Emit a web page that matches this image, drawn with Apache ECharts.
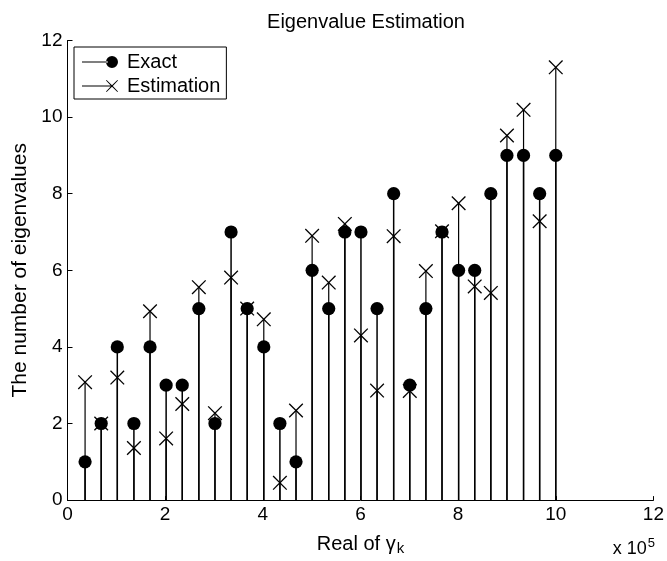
<!DOCTYPE html>
<html>
<head>
<meta charset="utf-8">
<script src="https://cdn.jsdelivr.net/npm/echarts@6/dist/echarts.min.js"></script>
<style>
  html, body { margin: 0; padding: 0; background: #fff; }
  #chart { width: 667px; height: 561px; }
</style>
</head>
<body>
<div id="chart"></div>
<script>
// Real part of gamma_k (units of 1e5)
var gammaReal = [0.36, 0.69, 1.02, 1.36, 1.69, 2.02, 2.35, 2.69, 3.02, 3.35,
                 3.68, 4.02, 4.35, 4.68, 5.01, 5.35, 5.68, 6.01, 6.34, 6.68,
                 7.01, 7.34, 7.67, 8.01, 8.34, 8.67, 9.00, 9.34, 9.67, 10.00];
// Exact eigenvalue counts
var exactCounts = [1, 2, 4, 2, 4, 3, 3, 5, 2, 7,
                   5, 4, 2, 1, 6, 5, 7, 7, 5, 8,
                   3, 5, 7, 6, 6, 8, 9, 9, 8, 9];
// Estimated eigenvalue counts
var estimatedCounts = [3.08, 2.0, 3.2, 1.36, 4.93, 1.61, 2.51, 5.56, 2.27, 5.81,
                       5.0, 4.72, 0.45, 2.34, 6.9, 5.68, 7.21, 4.3, 2.86, 6.89,
                       2.85, 5.98, 7.02, 7.75, 5.58, 5.41, 9.52, 10.19, 7.28, 11.3];
var xTicks = [0, 2, 4, 6, 8, 10, 12];
var yTicks = [0, 2, 4, 6, 8, 10, 12];

var FONT = '"Liberation Sans", Arial, Helvetica, sans-serif';

function pairs(xs, ys) {
  return xs.map(function (x, i) { return [x, ys[i]]; });
}

// Stem: vertical line from the baseline up to the value, with a marker on top
function stemItem(markerKind) {
  return function (params, api) {
    var x = api.value(0), y = api.value(1);
    var base = api.coord([x, 0]);
    var tip = api.coord([x, y]);
    var children = [{
      type: 'line',
      shape: { x1: base[0], y1: base[1], x2: tip[0], y2: tip[1] },
      style: { stroke: '#000', lineWidth: markerKind === 'dot' ? 1.5 : 1.2 }
    }];
    if (markerKind === 'dot') {
      children.push({
        type: 'circle',
        shape: { cx: tip[0], cy: tip[1], r: 6.6 },
        style: { fill: '#000' }
      });
    } else {
      var h = 6.8;
      children.push({
        type: 'line',
        shape: { x1: tip[0] - h, y1: tip[1] - h, x2: tip[0] + h, y2: tip[1] + h },
        style: { stroke: '#000', lineWidth: 1.3 }
      });
      children.push({
        type: 'line',
        shape: { x1: tip[0] - h, y1: tip[1] + h, x2: tip[0] + h, y2: tip[1] - h },
        style: { stroke: '#000', lineWidth: 1.3 }
      });
    }
    return { type: 'group', children: children };
  };
}

// Legend icons: short line ending in the series marker (36 x 12 box)
var iconDot = 'path://M0,5.4H26V6.6H0Z M24,6a6,6 0 1,0 12,0a6,6 0 1,0 -12,0Z';
var iconCross = 'path://M0,5.4H29.2V6.6H0Z M24.6,0L30,5.2L35.4,0L36,0.6L30.8,6L36,11.4L35.4,12L30,6.8L24.6,12L24,11.4L29.2,6L24,0.6Z';

var chart = echarts.init(document.getElementById('chart'), null, { renderer: 'canvas' });

chart.setOption({
  backgroundColor: '#fff',
  animation: false,
  title: {
    text: 'Eigenvalue Estimation',
    left: 361,
    textAlign: 'center',
    top: 7,
    textStyle: { fontFamily: FONT, fontSize: 20, fontWeight: 'normal', color: '#000' }
  },
  legend: {
    left: 74,
    top: 47,
    orient: 'vertical',
    backgroundColor: '#fff',
    borderColor: '#000',
    borderWidth: 1,
    borderRadius: 0,
    padding: [5, 6, 3, 8],
    itemGap: 4,
    itemWidth: 36,
    itemHeight: 12,
    textStyle: { fontFamily: FONT, fontSize: 20, lineHeight: 20, color: '#000', padding: [0, 0, 0, 4] },
    data: [
      { name: 'Exact', icon: iconDot, itemStyle: { color: '#000' } },
      { name: 'Estimation', icon: iconCross, itemStyle: { color: '#000' } }
    ]
  },
  grid: { left: 67.5, right: 13, top: 40.5, bottom: 58.5, containLabel: false },
  xAxis: {
    type: 'value',
    min: xTicks[0],
    max: xTicks[xTicks.length - 1],
    interval: xTicks[1] - xTicks[0],
    name: '{a|Real of γ}{b|k}',
    nameLocation: 'middle',
    nameGap: 21,
    nameTextStyle: {
      color: '#000',
      rich: {
        a: { fontFamily: FONT, fontSize: 20, color: '#000', lineHeight: 22, verticalAlign: 'top' },
        b: { fontFamily: FONT, fontSize: 15, color: '#000', lineHeight: 15, verticalAlign: 'bottom', padding: [12, 0, 0, 1] }
      }
    },
    axisLine: { show: true, lineStyle: { color: '#000', width: 1 } },
    axisTick: { show: true, inside: true, length: 4, lineStyle: { color: '#000' } },
    axisLabel: { fontFamily: FONT, fontSize: 19, color: '#000', margin: 5 },
    splitLine: { show: false }
  },
  yAxis: {
    type: 'value',
    min: yTicks[0],
    max: yTicks[yTicks.length - 1],
    interval: yTicks[1] - yTicks[0],
    name: 'The number of eigenvalues',
    nameLocation: 'middle',
    nameRotate: 90,
    nameGap: 33,
    nameTextStyle: { fontFamily: FONT, fontSize: 21, color: '#000' },
    axisLine: { show: true, lineStyle: { color: '#000', width: 1 } },
    axisTick: { show: true, inside: true, length: 5, lineStyle: { color: '#000' } },
    axisLabel: { fontFamily: FONT, fontSize: 19, color: '#000', margin: 5 },
    splitLine: { show: false }
  },
  graphic: [{
    type: 'text',
    right: 12,
    top: 537,
    style: {
      text: '{a|x 10}{b|5}',
      rich: {
        a: { fontFamily: FONT, fontSize: 18, fill: '#000', lineHeight: 21, verticalAlign: 'bottom' },
        b: { fontFamily: FONT, fontSize: 13, fill: '#000', lineHeight: 13, verticalAlign: 'top', padding: [0, 0, 9, 1] }
      }
    }
  }],
  series: [
    {
      name: 'Exact',
      type: 'custom',
      renderItem: stemItem('dot'),
      itemStyle: { color: '#000' },
      data: pairs(gammaReal, exactCounts),
      z: 2
    },
    {
      name: 'Estimation',
      type: 'custom',
      renderItem: stemItem('cross'),
      itemStyle: { color: '#000' },
      data: pairs(gammaReal, estimatedCounts),
      z: 3
    }
  ]
});
</script>
</body>
</html>
